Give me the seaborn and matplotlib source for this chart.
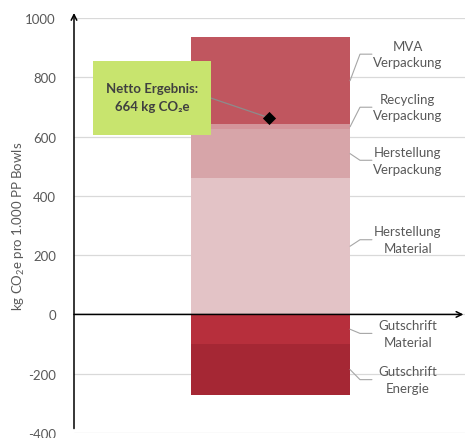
import numpy as np
import pandas as pd
import seaborn as sns
import matplotlib.pyplot as plt
from matplotlib.patches import Rectangle

# =========================
# DATA
# =========================
segments = ["Herstellung\nMaterial", "Herstellung\nVerpackung", "Recycling\nVerpackung",
            "MVA\nVerpackung", "Gutschrift\nMaterial", "Gutschrift\nEnergie"]
values = [460, 165, 16, 295, -100, -172]
colors = ["#E3C3C6", "#D7A5A9", "#D4959B", "#C0565F", "#B72F3C", "#A52734"]
yticks = [-400, -200, 0, 200, 400, 600, 800, 1000]
ylabel = "kg $\\mathregular{CO_2}$e pro 1.000 PP Bowls"

# label layout (y of label centres)
label_y = [252, 520, 699, 878, -64, -220]

# =========================
# STYLE
# =========================
sns.set_style("white")
plt.rcParams["font.family"] = ["Lato", "DejaVu Sans"]
txt_col = "#595959"

fig = plt.figure(figsize=(4.65, 4.39), dpi=100)
ax = fig.add_axes([74 / 465, 1 - 434 / 439, 391 / 465, 415 / 439])

# stacked bar: overlay cumulative totals, largest first
pos = [v for v in values if v > 0]
neg = [v for v in values if v < 0]
pos_cols = colors[:len(pos)]
neg_cols = colors[len(pos):]
pos_cum = np.cumsum(pos)
neg_cum = np.cumsum(neg)
bottoms = list(np.concatenate([[0], pos_cum[:-1], [0], neg_cum[:-1]]))
tops = list(np.concatenate([pos_cum, neg_cum]))

for cum, col in list(zip(pos_cum, pos_cols))[::-1] + list(zip(neg_cum, neg_cols))[::-1]:
    sns.barplot(x=[0], y=[cum], color=col, saturation=1, width=0.8,
                errorbar=None, linewidth=0, ax=ax, zorder=2)

net = sum(values)

ax.set_xlim(-0.988, 0.978)
ax.set_ylim(-400, 1000)
ax.set_yticks(yticks)
ax.set_yticklabels([str(t) for t in yticks], color=txt_col, fontsize=9.5)
ax.set_xticks([])
ax.tick_params(axis="y", length=0, pad=13)
ax.yaxis.grid(True, color="#D9D9D9", lw=0.9, zorder=0)
ax.set_axisbelow(True)
for s in ax.spines.values():
    s.set_visible(False)
ax.set_xlabel("")
ax.set_ylabel(ylabel, color=txt_col, fontsize=9.5, labelpad=-1)

# axes arrows
ax.annotate("", xy=(0.97, 0), xytext=(-0.988, 0),
            arrowprops=dict(arrowstyle="->", color="black", lw=1.1, shrinkA=0, shrinkB=0),
            annotation_clip=False, zorder=3)
ax.annotate("", xy=(-0.988, 1017), xytext=(-0.988, -385),
            arrowprops=dict(arrowstyle="->", color="black", lw=1.1, shrinkA=0, shrinkB=0),
            annotation_clip=False, zorder=3)

# segment labels with leader lines
for name, b, t, ly in zip(segments, bottoms, tops, label_y):
    mid = (b + t) / 2
    ax.plot([0.4, 0.45, 0.51], [mid, ly, ly], color="#A6A6A6", lw=0.8, zorder=3, clip_on=False)
    ax.text(0.69, ly, name, ha="center", va="center", color=txt_col, fontsize=9.5,
            linespacing=1.45)

# net result marker and box
ax.plot([-0.3, -0.01], [730, net], color="#8C8C8C", lw=0.9, zorder=4)
sns.scatterplot(x=[-0.01], y=[net], marker="D", color="black", s=45, ax=ax, zorder=5,
                linewidth=0)
ax.add_patch(Rectangle((-0.892, 605), 0.593, 250, facecolor="#C8E46E", edgecolor="none", zorder=4))
ax.text(-0.596, 732, "Netto Ergebnis:\n664 kg CO\u2082e", ha="center", va="center",
        fontsize=9.5, fontweight="bold", color="#404040", zorder=5, linespacing=1.6)

fig.savefig("out.png", dpi=100)
